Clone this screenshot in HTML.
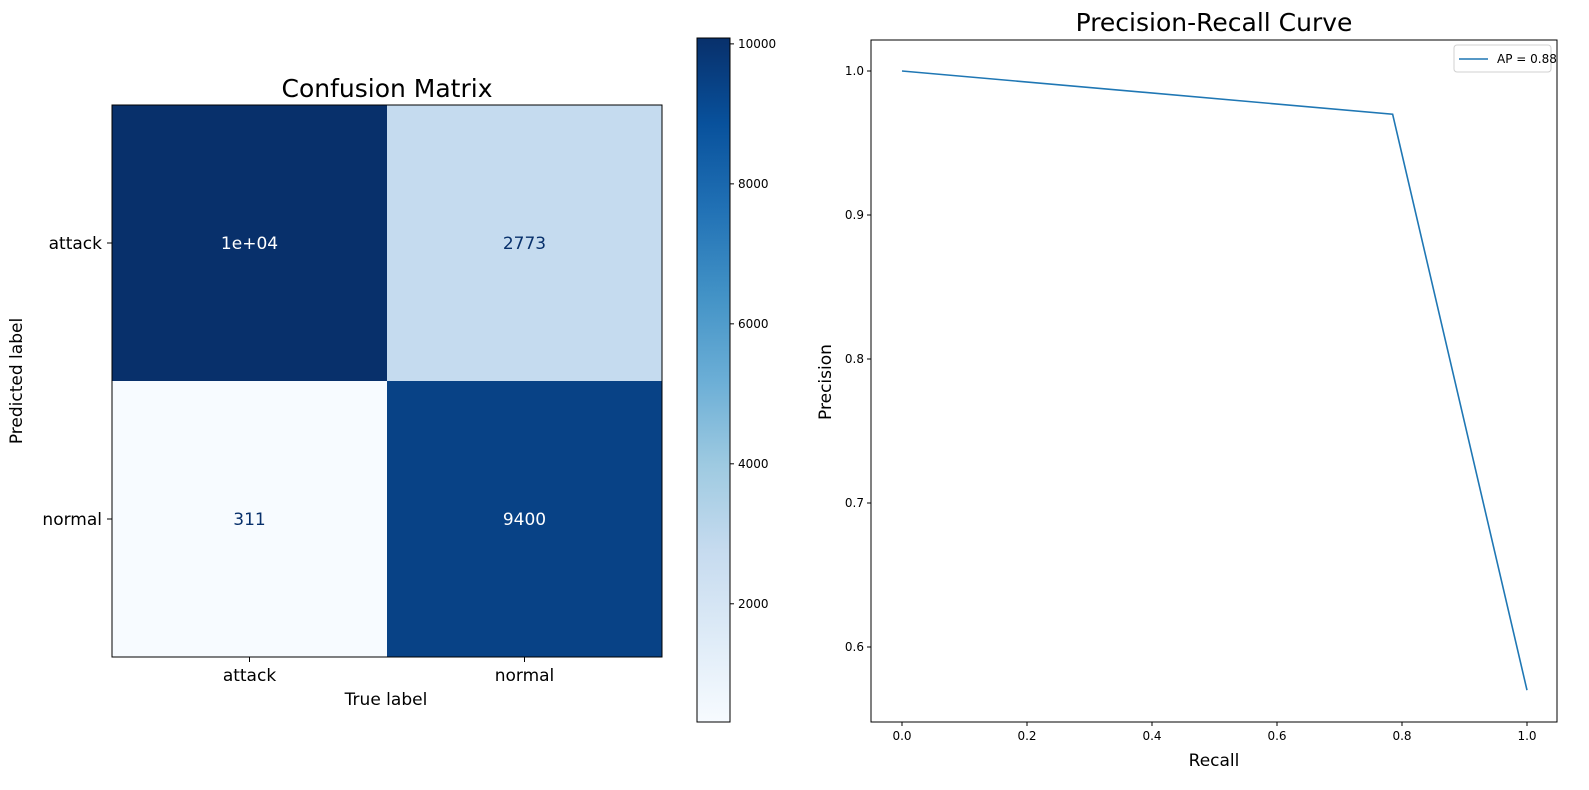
<!DOCTYPE html>
<html><head><meta charset="utf-8"><style>
html,body{margin:0;padding:0;background:#fff;overflow:hidden;width:1589px;height:790px;}
svg{display:block;font-family:"DejaVu Sans","Liberation Sans",sans-serif;}
</style></head><body>
<svg id="s" width="1589" height="790" xmlns="http://www.w3.org/2000/svg"></svg>
<script>
const cmLabels=["attack","normal"];
const cmValues=[[10084,2773],[311,9400]];
const cmText=[["1e+04","2773"],["311","9400"]];
const cbTicks=[2000,4000,6000,8000,10000];
const prRecall=[0,0.785,1];
const prPrecision=[1,0.97,0.57];
const prXTicks=[0,0.2,0.4,0.6,0.8,1.0];
const prYTicks=[0.6,0.7,0.8,0.9,1.0];
const apLabel="AP = 0.88";

const S=document.getElementById('s');const NS="http://www.w3.org/2000/svg";
function el(t,a,p){const e=document.createElementNS(NS,t);for(const k in a)e.setAttribute(k,a[k]);(p||S).appendChild(e);return e;}
function tx(x,y,s,str,anchor,extra){const e=el('text',Object.assign({x:x,y:y,'font-size':s,'text-anchor':anchor||'middle',fill:'#000'},extra||{}));e.textContent=str;return e;}
const stops=["#f7fbff","#deebf7","#c6dbef","#9ecae1","#6baed6","#4292c6","#2171b5","#08519c","#08306b"];
function hx(h){return [1,3,5].map(i=>parseInt(h.substr(i,2),16));}
const vmin=311,vmax=10084;
function cmap(v){let t=(v-vmin)/(vmax-vmin);t=Math.max(0,Math.min(1,t))*(stops.length-1);const i=Math.min(Math.floor(t),stops.length-2),f=t-i;const a=hx(stops[i]),b=hx(stops[i+1]);return 'rgb('+a.map((c,k)=>Math.round(c+(b[k]-c)*f)).join(',')+')';}

const L=112,R=662,T=105,B=657,cw=(R-L)/2,ch=(B-T)/2;
const g=el('g',{});

for(let r=0;r<2;r++)for(let c=0;c<2;c++){
 const v=cmValues[r][c];
 const rc=el('rect',{x:L+c*cw,y:T+r*ch,width:cw,height:ch,fill:cmap(v)},g);
 
 const t=tx(L+c*cw+cw/2,T+r*ch+ch/2+6,17,cmText[r][c],'middle',{fill:(v-vmin)/(vmax-vmin)>0.5?'#fff':'#08306b'});
 
}
el('rect',{x:L,y:T,width:R-L,height:B-T,fill:'none',stroke:'#000','stroke-width':1});
for(let i=0;i<2;i++){
 const cx=L+i*cw+cw/2, cy=T+i*ch+ch/2;
 el('line',{x1:cx,y1:B,x2:cx,y2:B+5,stroke:'#000'});
 const a=tx(cx,B+24,17,cmLabels[i]);
 el('line',{x1:L-5,y1:cy,x2:L,y2:cy,stroke:'#000'});
 const b=tx(L-10,cy+6,17,cmLabels[i],'end');
}
let t1=tx(387,97,25,"Confusion Matrix");
let t2=tx(386,705,17,"True label");
let t3=tx(22,381,17,"Predicted label",'middle',{transform:'rotate(-90 22 381)'});

const CL=697,CR=730,CT=38,CB=722;
const d=el('defs',{});const lg=el('linearGradient',{id:'bl',x1:0,y1:1,x2:0,y2:0},d);
stops.forEach((c,i)=>el('stop',{offset:i/(stops.length-1),'stop-color':c},lg));
const cb=el('rect',{x:CL,y:CT,width:CR-CL,height:CB-CT,fill:'url(#bl)',stroke:'#000','stroke-width':1});

function cy(v){return CB-(v-vmin)/(vmax-vmin)*(CB-CT);}
cbTicks.forEach(v=>{const y=cy(v);el('line',{x1:CR,y1:y,x2:CR+4,y2:y,stroke:'#000'});const t=tx(CR+8,y+4,12,String(v),'start');});

const PL=871,PR=1557,PT=40,PB=722;
function px(v){return 902+v*625;}
function py(v){return 71+(1-v)*1440;}
el('rect',{x:PL,y:PT,width:PR-PL,height:PB-PT,fill:'none',stroke:'#000'});
prXTicks.forEach(v=>{const x=px(v);el('line',{x1:x,y1:PB,x2:x,y2:PB+4,stroke:'#000'});const t=tx(x,PB+18,12,v.toFixed(1));});
prYTicks.forEach(v=>{const y=py(v);el('line',{x1:PL-4,y1:y,x2:PL,y2:y,stroke:'#000'});const t=tx(PL-7,y+4,12,v.toFixed(1),'end');});
const line=el('polyline',{points:prRecall.map((r,i)=>px(r)+','+py(prPrecision[i])).join(' '),fill:'none',stroke:'#1f77b4','stroke-width':1.6});

let t4=tx(1214,31,25,"Precision-Recall Curve");
let t5=tx(1214,766,17,"Recall");
let t6=tx(831,382,17,"Precision",'middle',{transform:'rotate(-90 831 382)'});
const lgd=el('g',{});
el('rect',{x:1454,y:45,width:97,height:27,rx:3,fill:'#fff',stroke:'#d0d0d0'},lgd);
el('line',{x1:1459,y1:59,x2:1488,y2:59,stroke:'#1f77b4','stroke-width':1.6},lgd);
const lt=tx(1497,63,12,apLabel,'start');lgd.appendChild(lt);
</script>
</body></html>
